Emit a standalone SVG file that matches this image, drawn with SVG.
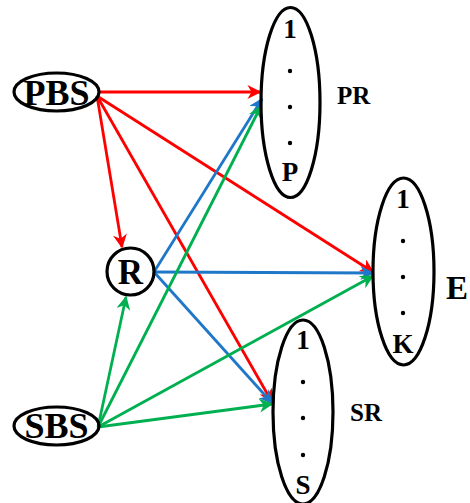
<svg xmlns="http://www.w3.org/2000/svg" width="470" height="503" viewBox="0 0 470 503">
<style>
.node{fill:none;stroke:#000;stroke-width:3.2}
.t{font-family:"Liberation Serif","Times New Roman",serif;font-weight:bold;fill:#000;text-anchor:middle}
.lbl{font-family:"Liberation Serif","Times New Roman",serif;font-weight:bold;fill:#000}
.dot{fill:#000}
.r{stroke:#ff0000;stroke-width:2.8;fill:none;marker-end:url(#mr)}
.b{stroke:#1f77c8;stroke-width:2.8;fill:none;marker-end:url(#mb)}
.g{stroke:#00b050;stroke-width:2.8;fill:none;marker-end:url(#mg)}
</style>
<defs>
<marker id="mr" viewBox="0 0 10 10" refX="9" refY="5" markerWidth="5" markerHeight="5" orient="auto" markerUnits="strokeWidth"><path d="M0,0 L10,5 L0,10 L3,5 z" fill="#ff0000"/></marker>
<marker id="mb" viewBox="0 0 10 10" refX="9" refY="5" markerWidth="5" markerHeight="5" orient="auto" markerUnits="strokeWidth"><path d="M0,0 L10,5 L0,10 L3,5 z" fill="#1f77c8"/></marker>
<marker id="mg" viewBox="0 0 10 10" refX="9" refY="5" markerWidth="5" markerHeight="5" orient="auto" markerUnits="strokeWidth"><path d="M0,0 L10,5 L0,10 L3,5 z" fill="#00b050"/></marker>
</defs>
<g id="connectors">
<line class="r" x1="98" y1="92" x2="260" y2="92"/>
<line class="r" x1="97" y1="96" x2="122" y2="247"/>
<line class="r" x1="97" y1="96" x2="373" y2="272"/>
<line class="r" x1="97" y1="96" x2="272" y2="402"/>
<line class="b" x1="154" y1="272" x2="262" y2="99"/>
<line class="b" x1="154" y1="272" x2="373" y2="273"/>
<line class="b" x1="154" y1="272" x2="272" y2="403"/>
<line class="g" x1="98" y1="427" x2="126" y2="297"/>
<line class="g" x1="98" y1="427" x2="261" y2="106"/>
<line class="g" x1="98" y1="427" x2="373" y2="276"/>
<line class="g" x1="98" y1="427" x2="272" y2="404"/>
</g>
<g id="PBS">
<ellipse class="node" cx="56.5" cy="92" rx="42.5" ry="19"/>
<text class="t" x="56.5" y="105" font-size="36">PBS</text>
</g>
<g id="SBS">
<ellipse class="node" cx="56.5" cy="426" rx="42.5" ry="19"/>
<text class="t" x="56.5" y="438" font-size="36">SBS</text>
</g>
<g id="R">
<circle class="node" cx="130.5" cy="271.5" r="23.5"/>
<text class="t" x="130.5" y="284" font-size="35">R</text>
</g>
<g id="PR">
<ellipse class="node" cx="290.5" cy="102.5" rx="29.5" ry="95"/>
<text class="t" x="290" y="38" font-size="27">1</text>
<circle class="dot" cx="290" cy="71" r="2.2"/>
<circle class="dot" cx="290" cy="107" r="2.2"/>
<circle class="dot" cx="290" cy="143" r="2.2"/>
<text class="t" x="290" y="181" font-size="27">P</text>
<text class="lbl" x="337" y="104" font-size="25">PR</text>
</g>
<g id="E">
<ellipse class="node" cx="403.5" cy="271.5" rx="30.5" ry="93.5"/>
<text class="t" x="403" y="208" font-size="27">1</text>
<circle class="dot" cx="403" cy="241" r="2.2"/>
<circle class="dot" cx="403" cy="277" r="2.2"/>
<circle class="dot" cx="403" cy="313" r="2.2"/>
<text class="t" x="403" y="353" font-size="27">K</text>
<text class="lbl" x="446" y="299" font-size="33">E</text>
</g>
<g id="SR">
<ellipse class="node" cx="303" cy="412" rx="30" ry="92"/>
<text class="t" x="303" y="349" font-size="27">1</text>
<circle class="dot" cx="303" cy="382" r="2.2"/>
<circle class="dot" cx="303" cy="418" r="2.2"/>
<circle class="dot" cx="303" cy="455" r="2.2"/>
<text class="t" x="303" y="494" font-size="27">S</text>
<text class="lbl" x="350" y="421" font-size="25">SR</text>
</g>
</svg>
